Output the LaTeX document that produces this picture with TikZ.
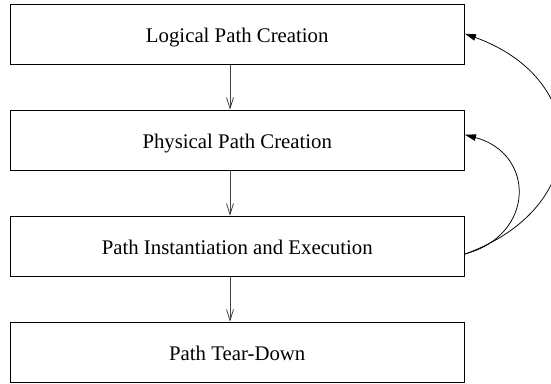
\documentclass[tikz,border=0pt]{standalone}
\usepackage{fontspec}
\setmainfont{Liberation Serif}
\usetikzlibrary{calc}
\usetikzlibrary{arrows.meta}
\newcommand{\stpw}{454.5pt}
\newcommand{\stph}{60.5pt}
\newcommand{\stpgap}{106}
\newcommand{\stpx}{237.25}
\newcommand{\stpya}{348.5}
\newcommand{\stpyb}{\stpya - \stpgap}
\newcommand{\stpyc}{\stpyb - \stpgap}
\newcommand{\stpyd}{\stpyc - \stpgap}
\newcommand{\arrsh}{-7.25}

\begin{document}
\begin{tikzpicture}[x=1pt,y=1pt,font=\fontsize{20.8}{25}\selectfont,
    stpbox/.style={draw,line width=1pt,minimum width=\stpw,
      minimum height=\stph,inner sep=0pt,text height=16pt,text depth=0pt},
    dwnarr/.style={draw=black!75,line width=0.8pt,
      -{Straight Barb[length=11pt,width=7pt]}},
    bckarr/.style={draw,line width=0.75pt,
      -{Triangle[length=11pt,width=6.5pt]}}]
    \useasboundingbox (0,0) rectangle (551,383);

    \node (lpc) at (\stpx, \stpya) [stpbox] {Logical Path Creation};
    \node (ppc) at (\stpx, \stpyb) [stpbox] {Physical Path Creation};
    \node (pie) at (\stpx, \stpyc) [stpbox] {Path Instantiation and Execution};
    \node (ptd) at (\stpx, \stpyd) [stpbox] {Path Tear-Down};

    \draw [dwnarr] ($(lpc.south) + (\arrsh, 0)$) -- ($(ppc.north) + (\arrsh, 0)$);
    \draw [dwnarr] ($(ppc.south) + (\arrsh, 0)$) -- ($(pie.north) + (\arrsh, 0)$);
    \draw [dwnarr] ($(pie.south) + (\arrsh, 0)$) -- ($(ptd.north) + (\arrsh, 0)$);

    % loops back from execution
    \coordinate (loopst) at ($(pie.east) + (0, -7.5)$);
    \draw [bckarr] (loopst)
      .. controls +(70.5, 18.9) and +(70.5, -18.9) .. ($(ppc.east) + (0, 5.75)$);
    \draw [bckarr] (loopst)
      .. controls +(127, 46) and +(127, -46) .. ($(lpc.east) + (0, 0.75)$);
\end{tikzpicture}
\end{document}
